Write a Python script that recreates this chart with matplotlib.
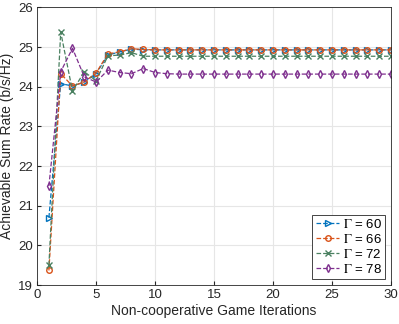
import matplotlib
matplotlib.use('Agg')
import matplotlib.pyplot as plt

plt.rcParams['font.family'] = ['Liberation Sans', 'DejaVu Sans']
plt.rcParams['mathtext.fontset'] = 'stix'

iterations = list(range(1, 31))

# sum rate for each Gamma
rate_60 = [20.7, 24.08, 24.02, 24.12, 24.33, 24.80, 24.88, 24.95, 24.93, 24.93,
           24.93, 24.93, 24.93, 24.93, 24.93, 24.93, 24.93, 24.93, 24.93, 24.93,
           24.93, 24.93, 24.93, 24.93, 24.93, 24.93, 24.93, 24.93, 24.93, 24.93]
rate_66 = [19.37, 24.33, 24.02, 24.12, 24.35, 24.83, 24.88, 24.96, 24.94, 24.93,
           24.93, 24.93, 24.93, 24.93, 24.93, 24.93, 24.93, 24.93, 24.93, 24.93,
           24.93, 24.93, 24.93, 24.93, 24.93, 24.93, 24.93, 24.93, 24.93, 24.93]
rate_72 = [19.5, 25.38, 23.89, 24.38, 24.15, 24.78, 24.80, 24.86, 24.77, 24.77,
           24.77, 24.77, 24.77, 24.77, 24.77, 24.77, 24.77, 24.77, 24.77, 24.77,
           24.77, 24.77, 24.77, 24.77, 24.77, 24.77, 24.77, 24.77, 24.77, 24.77]
rate_78 = [21.5, 24.38, 24.97, 24.25, 24.12, 24.42, 24.36, 24.33, 24.46, 24.36,
           24.33, 24.32, 24.32, 24.32, 24.32, 24.32, 24.32, 24.32, 24.32, 24.32,
           24.32, 24.32, 24.32, 24.32, 24.32, 24.32, 24.32, 24.32, 24.32, 24.32]

labels = [r'$\Gamma$ = 60', r'$\Gamma$ = 66', r'$\Gamma$ = 72', r'$\Gamma$ = 78']

fig = plt.figure(figsize=(3.99, 3.24), dpi=100)
ax = fig.add_axes([0.093, 0.12, 0.887, 0.857])

ax.plot(iterations, rate_60, linestyle='--', linewidth=0.9, color='#0072BD', marker='>',
        markersize=4, markerfacecolor='none', label=labels[0])
ax.plot(iterations, rate_66, linestyle='--', linewidth=0.9, color='#D95319', marker='o',
        markersize=4, markerfacecolor='none', label=labels[1])
ax.plot(iterations, rate_72, linestyle='--', linewidth=0.9, color='#4A8060', marker='x',
        markersize=4, label=labels[2])
ax.plot(iterations, rate_78, linestyle='--', linewidth=0.9, color='#7E2F8E', marker='d',
        markersize=4, markerfacecolor='none', label=labels[3])

ax.set_xlim(0, 30)
ax.set_ylim(19, 26)
ax.set_xticks(range(0, 31, 5))
ax.set_yticks(range(19, 27))
ax.grid(True, color='#e6e6e6', linewidth=0.8)
ax.set_axisbelow(True)
ax.tick_params(direction='in', labelsize=9.5, length=3, pad=3, colors='#262626')
for s in ax.spines.values():
    s.set_color('#262626')
    s.set_linewidth(0.6)

ax.set_xlabel('Non-cooperative Game Iterations', fontsize=10, color='#262626', labelpad=2)
ax.set_ylabel('Achievable Sum Rate (b/s/Hz)', fontsize=10, color='#262626', labelpad=3)

leg = ax.legend(loc='lower right', fontsize=9.5, fancybox=False, framealpha=1,
                edgecolor='#262626', handlelength=1.8, borderpad=0.25, labelspacing=0.15,
                handletextpad=0.25, borderaxespad=0.45)
leg.get_frame().set_linewidth(0.6)

fig.savefig('out.png', dpi=100)
